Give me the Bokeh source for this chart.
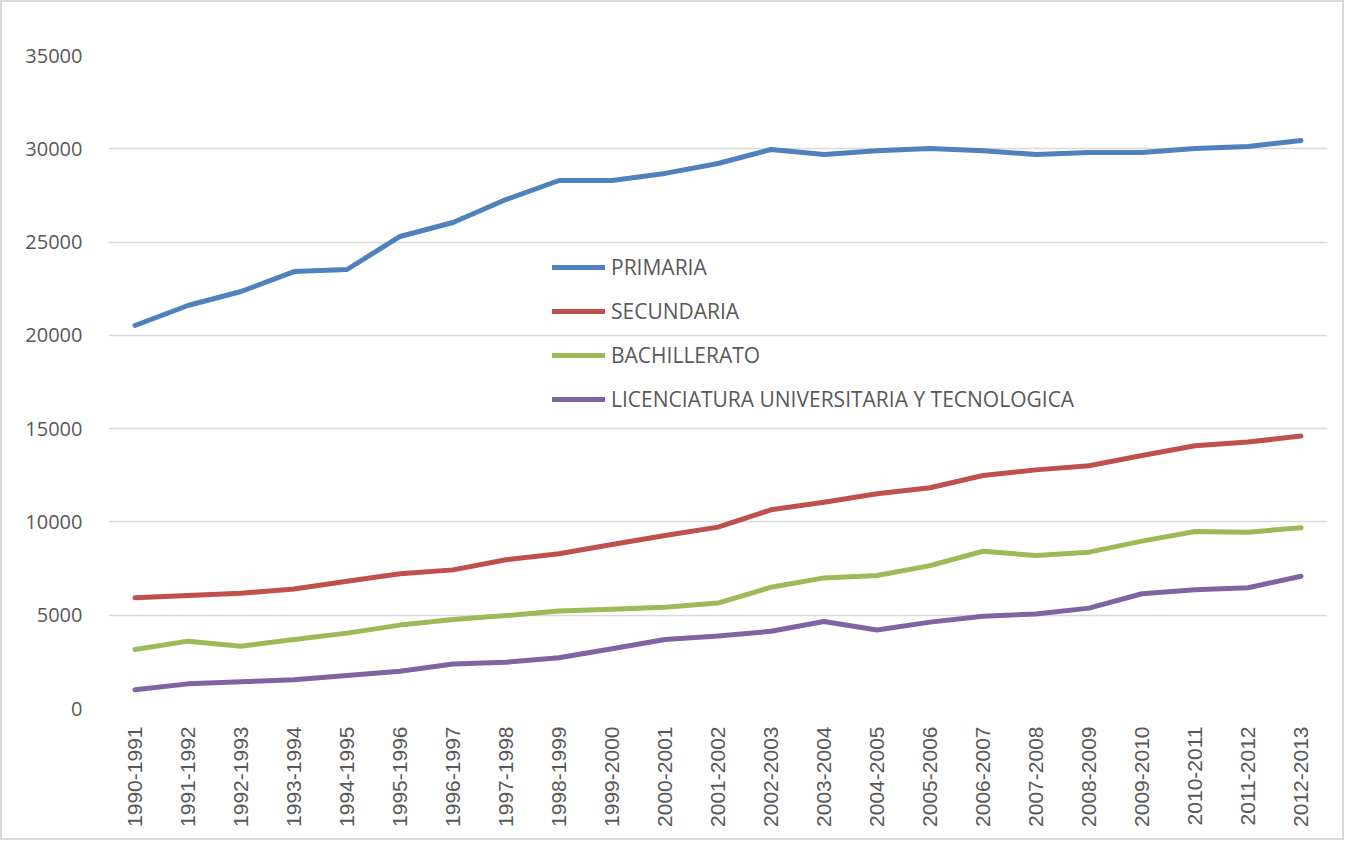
from bokeh.plotting import figure
from bokeh.models import FactorRange, Range1d, SingleIntervalTicker, Legend, LegendItem
from bokeh.embed import file_html
from bokeh.resources import INLINE
import math

periods = ["1990-1991", "1991-1992", "1992-1993", "1993-1994", "1994-1995", "1995-1996",
           "1996-1997", "1997-1998", "1998-1999", "1999-2000", "2000-2001", "2001-2002",
           "2002-2003", "2003-2004", "2004-2005", "2005-2006", "2006-2007", "2007-2008",
           "2008-2009", "2009-2010", "2010-2011", "2011-2012", "2012-2013"]

primaria = [20530, 21600, 22350, 23420, 23530, 25300, 26050, 27280, 28300, 28300, 28680, 29210,
            29960, 29690, 29900, 30010, 29900, 29690, 29800, 29800, 30010, 30120, 30440]
secundaria = [5930, 6060, 6180, 6400, 6820, 7220, 7430, 7970, 8290, 8790, 9270, 9720,
              10650, 11060, 11510, 11830, 12490, 12790, 13010, 13560, 14080, 14280, 14600]
bachillerato = [3160, 3610, 3340, 3700, 4040, 4470, 4770, 4980, 5220, 5320, 5430, 5650,
                6500, 7000, 7130, 7660, 8430, 8200, 8380, 8970, 9490, 9450, 9690]
licenciatura = [1000, 1320, 1430, 1540, 1770, 2000, 2390, 2480, 2720, 3200, 3700, 3880,
                4140, 4660, 4210, 4630, 4950, 5070, 5380, 6150, 6360, 6470, 7090]

series_names = ["PRIMARIA", "SECUNDARIA", "BACHILLERATO",
                "LICENCIATURA UNIVERSITARIA Y TECNOLOGICA"]
series_values = [primaria, secundaria, bachillerato, licenciatura]
series_colors = ["#4F81BD", "#C0504D", "#9BBB59", "#8064A2"]

p = figure(width=1344, height=840, output_backend="svg", toolbar_location=None,
           x_range=FactorRange(factors=periods, range_padding=0),
           y_range=Range1d(0, 35000),
           min_border_left=106, min_border_right=19, min_border_top=53, min_border_bottom=134)
p.styles = {"border": "2px solid #D9D9D9", "box-sizing": "border-box"}
p.outline_line_color = None
p.background_fill_color = "white"
p.border_fill_color = "white"

items = []
for name, vals, col in zip(series_names, series_values, series_colors):
    r = p.line(periods, vals, line_color=col, line_width=5, line_cap="round", line_join="round")
    items.append(LegendItem(label=name, renderers=[r]))

legend = Legend(items=items, location=(444, 295), padding=0, margin=0, spacing=16,
                glyph_width=53, glyph_height=20, label_height=20, label_standoff=6,
                border_line_color=None, background_fill_alpha=0,
                label_text_font="Open Sans", label_text_font_size="21px",
                label_text_color="#595959")
p.add_layout(legend, "center")

p.yaxis.ticker = SingleIntervalTicker(interval=5000)
p.yaxis.axis_line_color = None
p.yaxis.major_tick_line_color = None
p.yaxis.minor_tick_line_color = None
p.yaxis.major_tick_out = 0
p.yaxis.major_label_standoff = 22
p.yaxis.major_label_text_font = "Open Sans"
p.yaxis.major_label_text_font_size = "20px"
p.yaxis.major_label_text_color = "#595959"

p.xaxis.axis_line_color = None
p.xaxis.major_tick_line_color = None
p.xaxis.minor_tick_line_color = None
p.xaxis.major_tick_out = 0
p.xaxis.major_label_orientation = math.pi / 2
p.xaxis.major_label_standoff = 18
p.xaxis.major_label_text_font = "Liberation Sans"
p.xaxis.major_label_text_font_size = "21px"
p.xaxis.major_label_text_color = "#595959"

p.xgrid.grid_line_color = None
p.ygrid.grid_line_color = "#D9D9D9"
p.ygrid.grid_line_width = 1.5

open("out.html", "w").write(file_html(p, INLINE))
